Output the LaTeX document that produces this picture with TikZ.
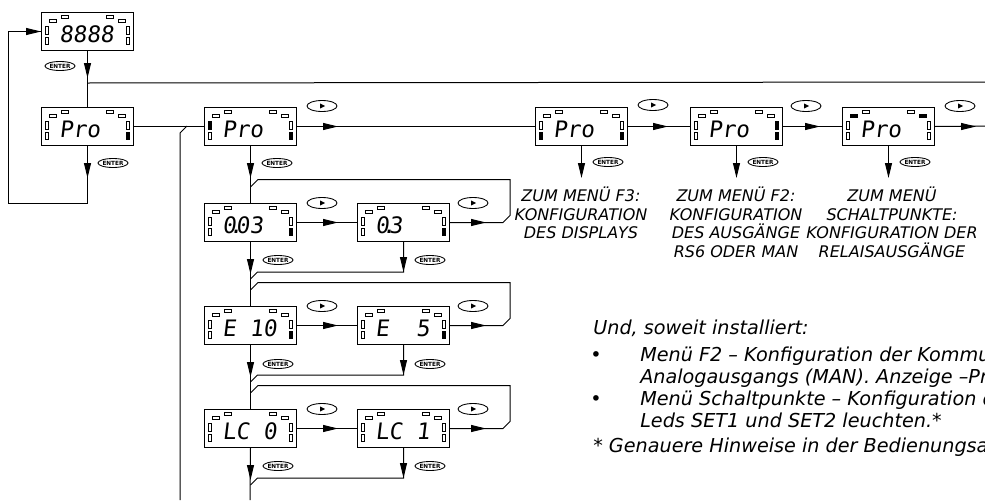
\documentclass[tikz,border=0pt]{standalone}
\usepackage{fontspec}
\setmainfont{DejaVu Sans}
\newfontfamily\segfont{DejaVu Sans Mono}[FakeSlant=0.12]
\usetikzlibrary{arrows.meta,shapes.geometric}

\newcommand{\lcd}[4]{%
  \node[lcdbox] (#1) at (#2,#3) {};
  \foreach \xa/\ya/\xb/\yb in {8/7.5/15/10.5, 20/3/27/6, 65/3/72/6, 77/7.5/84/10.5, 4/14.5/7/22, 4/25/7/32.5, 85/14.5/88/22, 85/25/88/32.5}
    \draw[ledline] ([shift={(\xa,\ya)}]#1.north west) rectangle ([shift={(\xb,\yb)}]#1.north west);
  \node[segtext] (#1t) at ([shift={(18,30.5)}]#1.north west) {#4};
}
\newcommand{\ledon}[5]{\fill ([shift={(#2,#3)}]#1.north west) rectangle ([shift={(#4,#5)}]#1.north west);}
\newcommand{\onRB}[1]{\ledon{#1}{84.5}{24.5}{88.5}{33}}
\newcommand{\onRT}[1]{\ledon{#1}{84.5}{14}{88.5}{22.5}}
\newcommand{\onLB}[1]{\ledon{#1}{3.5}{24.5}{7.5}{33}}
\newcommand{\onLT}[1]{\ledon{#1}{3.5}{14}{7.5}{22.5}}
\newcommand{\onTLo}[1]{\ledon{#1}{8}{7}{15}{11}}
\newcommand{\onTRo}[1]{\ledon{#1}{77}{7}{84}{11}}
\newcommand{\playbtn}[3]{%
  \node[playbtn] (#1) at (#2,#3) {};
  \fill ([shift={(-2,-2.6)}]#1.center) -- ([shift={(3,0)}]#1.center) -- ([shift={(-2,2.6)}]#1.center) -- cycle;
}

\begin{document}
\begin{tikzpicture}[x=0.75pt,y=-0.75pt,
  ln/.style={line width=0.75pt},
  tri/.style={-{Triangle[length=11.25pt,width=5.25pt]}},
  lcdbox/.style={draw, line width=0.75pt, rectangle, minimum width=69pt, minimum height=28.5pt, inner sep=0pt, anchor=north west},
  ledline/.style={line width=0.45pt},
  segtext/.style={font=\segfont\fontsize{17pt}{17pt}\selectfont, inner sep=0pt, anchor=base west},
  enterbtn/.style={ellipse, draw, line width=0.65pt, minimum width=22.5pt, minimum height=6.75pt, inner sep=0pt, font=\fontsize{4.3pt}{4.5pt}\selectfont\bfseries},
  playbtn/.style={ellipse, draw, line width=0.65pt, minimum width=22.5pt, minimum height=8.25pt, inner sep=0pt},
  captxt/.style={font=\itshape\fontsize{12pt}{13.9pt}\selectfont, align=center, anchor=north, inner sep=0pt},
  notetxt/.style={font=\itshape\fontsize{14.4pt}{16pt}\selectfont, inner sep=0pt, anchor=base west}
]
\fill[white] (0,0) rectangle (985,500);
\useasboundingbox (0,0) rectangle (985,500);

% displays, top row
\lcd{a1}{41}{12}{8888}
\lcd{b1}{41}{107}{Pro}\onRB{b1}
\lcd{b2}{204}{107}{Pro}\onLT{b2}\onRB{b2}
\lcd{b3}{535}{107}{Pro}\onLB{b3}\onRB{b3}
\lcd{b4}{690}{107}{Pro}\onRT{b4}\onRB{b4}
\lcd{b5}{842}{107}{Pro}\onTLo{b5}\onTRo{b5}

% displays, menu rows
\lcd{r1a}{204}{203}{0\kern-.3em.\kern-.3em03}\onRB{r1a}
\lcd{r1b}{357}{203}{0\kern-.3em.\kern-.3em3}\onRB{r1b}
\lcd{r2a}{204}{306}{E\hphantom{0}10}\onRB{r2a}
\lcd{r2b}{357}{306}{E\hphantom{00}5}\onRB{r2b}
\lcd{r3a}{204}{409}{LC\hphantom{0}0}
\lcd{r3b}{357}{409}{LC\hphantom{0}1}

% top connectors
\draw[ln] (a1.south) -- (b1.north);
\draw[ln,tri] (a1.south) -- ++(0,27);
\path (a1.south) ++(0,32) coordinate (jt);
\coordinate (rt) at (985,82);
\draw[ln] (jt) -- (rt);

\coordinate (lb) at (8,203);
\draw[ln] (b1.south) -- (b1.south |- lb) -- (lb) -- (lb |- a1.west) -- (a1.west);
\draw[ln,tri] (b1.south) -- ++(0,32);
\draw[ln,tri] (lb |- a1.west) -- (a1.west);

\draw[ln] (b1.east) -- (b2.west);
\coordinate (vb) at (180,500);
\draw[ln] (vb) -- ++(0,-367) -- ++(7,-7);

\draw[ln] (b2.east) -- (b3.west);
\draw[ln,tri] (b2.east) -- ++(41,0);
\draw[ln] (b3.east) -- (b4.west);
\draw[ln,tri] (b3.east) -- ++(40,0);
\draw[ln] (b4.east) -- (b5.west);
\draw[ln,tri] (b4.east) -- ++(37,0);
\coordinate (re) at (985,126);
\draw[ln] (b5.east) -- (re);
\draw[ln,tri] (b5.east) -- ++(41,0);

\draw[ln,tri] (b3.south) -- ++(0,32);
\draw[ln,tri] (b4.south) -- ++(0,32);
\draw[ln,tri] (b5.south) -- ++(0,32);

% main vertical
\draw[ln] (b2.south) -- (r1a.north);
\draw[ln,tri] (b2.south) -- ++(0,32);
\draw[ln] (r1a.south) -- (r2a.north);
\draw[ln,tri] (r1a.south) -- ++(0,32);
\draw[ln] (r2a.south) -- (r3a.north);
\draw[ln,tri] (r2a.south) -- ++(0,32);
\coordinate (ve) at (250,500);
\draw[ln] (r3a.south) -- (ve);
\draw[ln,tri] (r3a.south) -- ++(0,32);

% row loops
\foreach \r in {r1,r2,r3}{
  \draw[ln] (\r a.east) -- (\r b.west);
  \draw[ln,tri] (\r a.east) -- ++(41,0);
  \draw[ln] (\r b.east) -- ++(53,0) -- ++(7,-7) -- ++(0,-36) -- ++(-252,0) -- ++(-7,7);
  \draw[ln,tri] (\r b.east) -- ++(36,0);
  \draw[ln] (\r b.south) -- ++(0,30) -- ++(-146,0) -- ++(-7,7);
  \draw[ln,tri] (\r b.south) -- ++(0,30);
}

% buttons
\node[enterbtn] (e0) at (60,66) {ENTER};
\node[enterbtn] (e1) at (113,163) {ENTER};
\node[enterbtn] (e2) at (277,163) {ENTER};
\node[enterbtn] (e3) at (608,162) {ENTER};
\node[enterbtn] (e4) at (763,162) {ENTER};
\node[enterbtn] (e5) at (915,162) {ENTER};
\node[enterbtn] (e6) at (278,260) {ENTER};
\node[enterbtn] (e7) at (430,260) {ENTER};
\node[enterbtn] (e8) at (278,364) {ENTER};
\node[enterbtn] (e9) at (430,364) {ENTER};
\node[enterbtn] (e10) at (278,466) {ENTER};
\node[enterbtn] (e11) at (430,466) {ENTER};

\playbtn{p1}{322}{106}
\playbtn{p2}{653}{105}
\playbtn{p3}{806}{106}
\playbtn{p4}{960}{106}
\playbtn{p5}{322}{203}
\playbtn{p6}{473}{203}
\playbtn{p7}{322}{306}
\playbtn{p8}{473}{306}
\playbtn{p9}{322}{409}
\playbtn{p10}{473}{409}

% captions
\node[captxt] (c3) at (581,187) {ZUM MENÜ F3:\\KONFIGURATION\\DES DISPLAYS};
\node[captxt] (c4) at (736,187) {ZUM MENÜ F2:\\KONFIGURATION\\DES AUSGÄNGE\\RS6 ODER MAN};
\node[captxt] (c5) at (892,187) {ZUM MENÜ\\SCHALTPUNKTE:\\KONFIGURATION DER\\RELAISAUSGÄNGE};

% notes
\node[notetxt] (und) at (593,334) {Und, soweit installiert:};
\node[notetxt, anchor=base] (bul1) at (596,361) {•};
\node[notetxt] (l1) at (640,361) {Menü F2 – Konfiguration der Kommu};
\node[notetxt] (l2) at (640,383) {Analogausgangs (MAN). Anzeige –Pr};
\node[notetxt, anchor=base] (bul2) at (596,405) {•};
\node[notetxt] (l3) at (640,405) {Menü Schaltpunkte – Konfiguration d};
\node[notetxt] (l4) at (640,427) {Leds SET1 und SET2 leuchten.*};
\node[notetxt] (fn) at (593,452) {* Genauere Hinweise in der Bedienungsan};
\end{tikzpicture}
\end{document}
